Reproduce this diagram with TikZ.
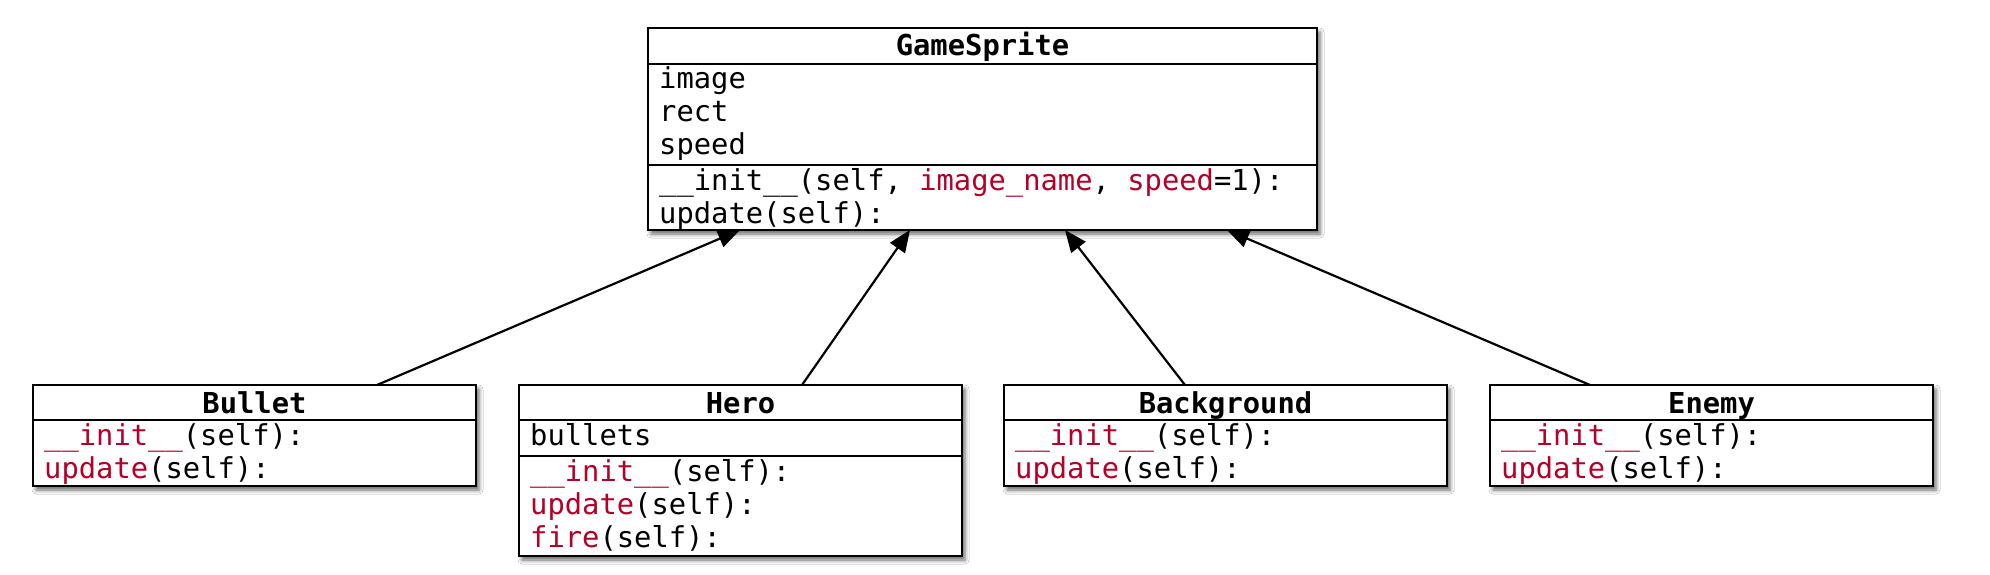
\documentclass[tikz,border=0pt]{standalone}
\usepackage{fontspec}
\setmainfont{DejaVu Sans Mono}
\usetikzlibrary{arrows.meta,calc,shadows.blur}
\definecolor{kw}{RGB}{180,0,40}
\tikzset{
  cls/.style={draw, line width=2.4pt, fill=white, rectangle, inner sep=0pt, outer sep=0pt,
    anchor=north west, minimum width=#1,
    blur shadow={shadow xshift=3pt, shadow yshift=-4pt, shadow blur radius=4pt, shadow opacity=60}},
  txt/.style={anchor=base west, inner sep=0pt, font=\fontsize{28.8}{33}\selectfont},
  ttl/.style={anchor=base, inner sep=0pt, font=\fontsize{28.8}{33}\selectfont\bfseries},
  sepline/.style={line width=2.4pt},
  inh/.style={line width=2.2pt, -{Triangle[length=22pt,width=18pt]}},
}
\begin{document}
\begin{tikzpicture}[x=1pt,y=-1pt]
\fill[white] (0,0) rectangle (1990,575);
\useasboundingbox (0,0) rectangle (1990,575);

% GameSprite
\node[cls=669pt, minimum height=202pt] (gs) at (648,28) {};
\draw[sepline] ($(gs.north west)+(0,36)$) -- ($(gs.north east)+(0,36)$);
\draw[sepline] ($(gs.north west)+(0,137)$) -- ($(gs.north east)+(0,137)$);
\node[ttl] (gst) at ($(gs.north)+(0,28)$) {GameSprite};
\node[txt] (gs1) at ($(gs.north west)+(11,61)$) {image};
\node[txt] (gs2) at ($(gs.north west)+(11,94)$) {rect};
\node[txt] (gs3) at ($(gs.north west)+(11,127)$) {speed};
\node[txt] (gs4) at ($(gs.north west)+(11,162)$) {\_\_init\_\_(self, \textcolor{kw}{image\_name}, \textcolor{kw}{speed}=1):};
\node[txt] (gs5) at ($(gs.north west)+(11,195)$) {update(self):};

% Bullet
\node[cls=443pt, minimum height=101pt] (bullet) at (33,385) {};
\draw[sepline] ($(bullet.north west)+(0,35)$) -- ($(bullet.north east)+(0,35)$);
\node[ttl] (bt) at ($(bullet.north)+(0,28)$) {Bullet};
\node[txt] (b1) at ($(bullet.north west)+(11,60)$) {\textcolor{kw}{\_\_init\_\_}(self):};
\node[txt] (b2) at ($(bullet.north west)+(11,93)$) {\textcolor{kw}{update}(self):};

% Hero
\node[cls=443pt, minimum height=171pt] (hero) at (519,385) {};
\draw[sepline] ($(hero.north west)+(0,35)$) -- ($(hero.north east)+(0,35)$);
\draw[sepline] ($(hero.north west)+(0,71)$) -- ($(hero.north east)+(0,71)$);
\node[ttl] (ht) at ($(hero.north)+(0,28)$) {Hero};
\node[txt] (h1) at ($(hero.north west)+(11,60)$) {bullets};
\node[txt] (h2) at ($(hero.north west)+(11,96)$) {\textcolor{kw}{\_\_init\_\_}(self):};
\node[txt] (h3) at ($(hero.north west)+(11,129)$) {\textcolor{kw}{update}(self):};
\node[txt] (h4) at ($(hero.north west)+(11,162)$) {\textcolor{kw}{fire}(self):};

% Background
\node[cls=443pt, minimum height=101pt] (bg) at (1004,385) {};
\draw[sepline] ($(bg.north west)+(0,35)$) -- ($(bg.north east)+(0,35)$);
\node[ttl] (bgt) at ($(bg.north)+(0,28)$) {Background};
\node[txt] (bg1) at ($(bg.north west)+(11,60)$) {\textcolor{kw}{\_\_init\_\_}(self):};
\node[txt] (bg2) at ($(bg.north west)+(11,93)$) {\textcolor{kw}{update}(self):};

% Enemy
\node[cls=443pt, minimum height=101pt] (enemy) at (1490,385) {};
\draw[sepline] ($(enemy.north west)+(0,35)$) -- ($(enemy.north east)+(0,35)$);
\node[ttl] (et) at ($(enemy.north)+(0,28)$) {Enemy};
\node[txt] (e1) at ($(enemy.north west)+(11,60)$) {\textcolor{kw}{\_\_init\_\_}(self):};
\node[txt] (e2) at ($(enemy.north west)+(11,93)$) {\textcolor{kw}{update}(self):};

% Inheritance arrows
\draw[inh] ($(bullet.north west)+(344,0)$) -- ($(gs.south west)+(92,0)$);
\draw[inh] ($(hero.north west)+(283,0)$) -- ($(gs.south west)+(262,0)$);
\draw[inh] ($(bg.north west)+(181,0)$) -- ($(gs.south west)+(417,0)$);
\draw[inh] ($(enemy.north west)+(100,0)$) -- ($(gs.south west)+(579,0)$);
\end{tikzpicture}
\end{document}
